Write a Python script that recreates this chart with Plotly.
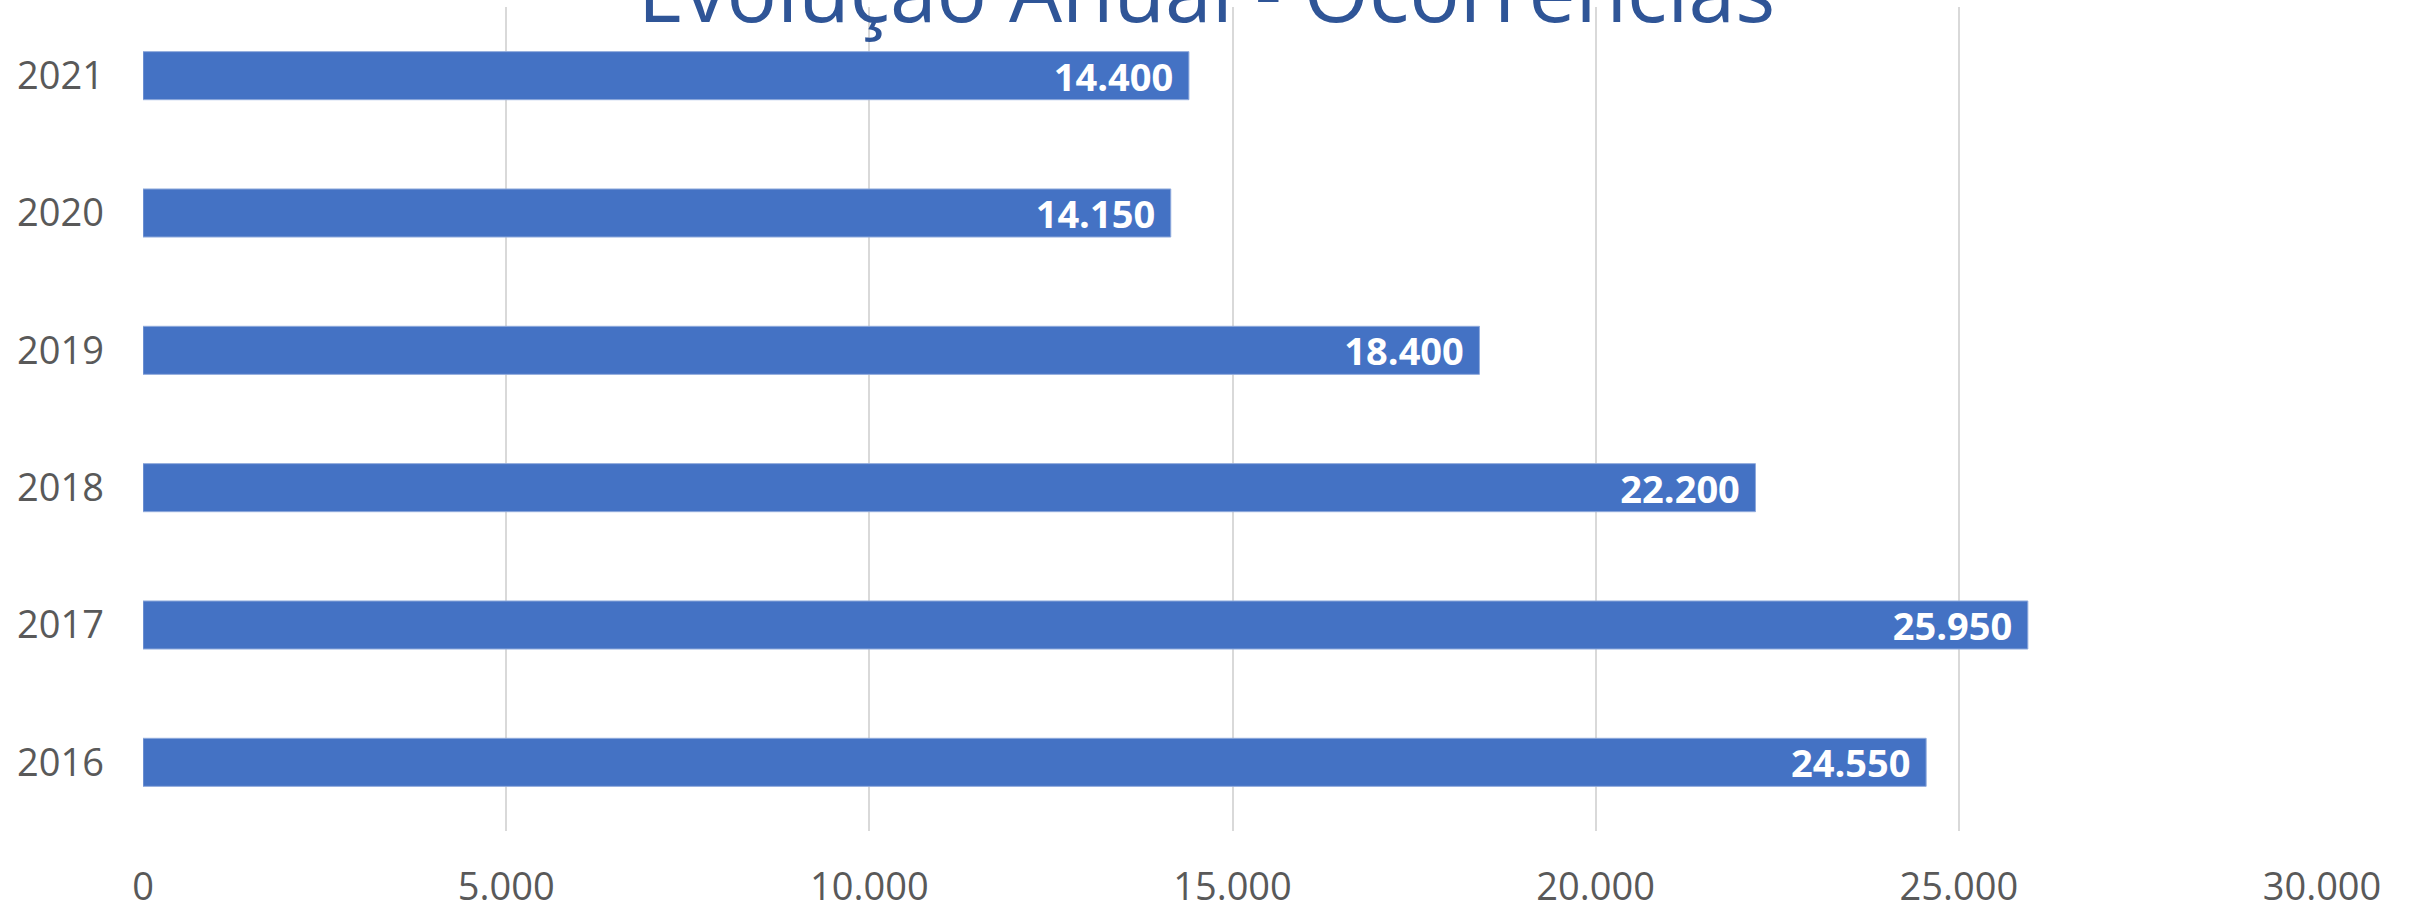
import plotly.graph_objects as go

years = ["2016", "2017", "2018", "2019", "2020", "2021"]
ocorrencias = [24550, 25950, 22200, 18400, 14150, 14400]
x_ticks = [0, 5000, 10000, 15000, 20000, 25000, 30000]
title_text = "Evolução Anual - Ocorrências"

fig = go.Figure(
    go.Bar(
        x=ocorrencias,
        y=years,
        orientation="h",
        marker=dict(color="#4472C4", line=dict(color="#8FAADC", width=1)),
        texttemplate="%{x:,d}\u2009\u2009",
        textposition="inside",
        insidetextanchor="end",
        constraintext="none",
        textfont=dict(family="Open Sans", size=38, color="white", weight="bold"),
        hoverinfo="skip",
    )
)

fig.update_layout(
    width=2413,
    height=902,
    separators=",.",
    paper_bgcolor="white",
    plot_bgcolor="white",
    margin=dict(l=143, r=91, t=7, b=71, autoexpand=False),
    bargap=0.65,
    showlegend=False,
    title=dict(
        text=title_text,
        x=0.5,
        xanchor="center",
        xref="container",
        y=1 - 22 / 902,
        yref="container",
        yanchor="bottom",
        font=dict(family="Open Sans", size=84, color="#2F5597"),
    ),
    font=dict(family="Open Sans", color="#595959"),
)

fig.update_xaxes(
    range=[0, 30000],
    tickvals=x_ticks,
    tickformat=",d",
    showgrid=True,
    gridcolor="#D9D9D9",
    gridwidth=1.5,
    zeroline=False,
    showline=False,
    ticks="",
    ticklabelstandoff=30,
    tickfont=dict(family="Open Sans", size=38, color="#595959"),
)

fig.update_yaxes(
    type="category",
    categoryorder="array",
    categoryarray=years,
    showgrid=False,
    zeroline=False,
    showline=False,
    ticks="",
    ticklabelstandoff=38,
    tickfont=dict(family="Open Sans", size=38, color="#595959"),
)

fig.write_html(
    "out.html",
    config={"displayModeBar": False},
    post_script="document.body.style.margin='0';document.body.style.overflow='hidden';",
)
